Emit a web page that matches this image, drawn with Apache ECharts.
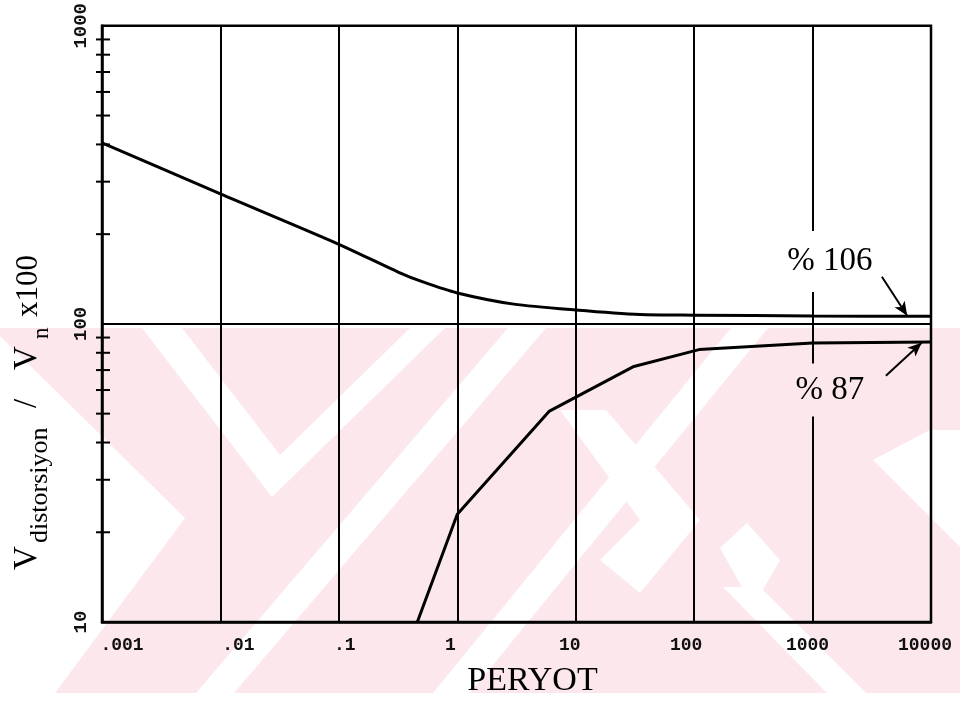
<!DOCTYPE html>
<html>
<head>
<meta charset="utf-8">
<script src="https://cdn.jsdelivr.net/npm/echarts@6/dist/echarts.min.js"></script>
<style>
  html, body { margin: 0; padding: 0; background: #fff; }
  #chart { width: 960px; height: 703px; }
</style>
</head>
<body>
<div id="chart"></div>
<script>
// Axis decades and their printed labels
const xTicks = [0.001, 0.01, 0.1, 1, 10, 100, 1000, 10000];
const xTickLabels = ['.001', '.01', '.1', '1', '10', '100', '1000', '10000'];
const yTicks = [10, 100, 1000];
const yTickLabels = ['10', '100', '1000'];
// Intermediate ticks drawn on the left axis
const yMinorTicks = [20, 30, 40, 50, 60, 70, 80, 90, 200, 300, 400, 500, 600, 700, 800, 900];

// Curves: [period, V_distorsiyon / V_n x100]
const overshootCurve = [
  [0.001, 405], [0.01, 273], [0.1, 185], [0.32, 149], [0.52, 138], [1, 127],
  [3, 116.5], [10, 111.3], [35, 107.5], [100, 107], [1000, 106.3], [10000, 106]
];
const undershootCurve = [
  [0.46, 10], [1, 23], [6, 51], [31, 72], [110, 82], [1000, 86.3], [10000, 87]
];

// Annotation texts, where they sit and their pointer arrows (data coordinates)
const overshootNote = '% 106';
const undershootNote = '% 87';
const overshootNoteAt = [1400, 162];
const undershootNoteAt = [1400, 60];
const overshootArrow = [[3850, 144], [6300, 106.5]];
const undershootArrow = [[4160, 67], [8340, 86.5]];

const axisTitle = { x: 'PERYOT' };

const chart = echarts.init(document.getElementById('chart'), null, { renderer: 'canvas' });

const decade = v => Math.round(Math.log10(v));
// horizontal nudges of the x labels (px, positive = right)
const xLabelShift = [20, 18, 6, -7, -6, -8, -5, -6];
const xRich = {};
xLabelShift.forEach((d, i) => {
  xRich['s' + i] = {
    fontFamily: 'Liberation Mono', fontWeight: 'bold', fontSize: 18, color: '#111',
    padding: d >= 0 ? [0, 0, 0, 2 * d] : [0, -2 * d, 0, 0]
  };
});

// Faint pink stripe pattern printed behind the lower half of the page
const PINK = '#fce8ec';
const Y0 = 328, Y1 = 693;
const whiteShapes = [
  [[0, 336], [185, 518], [55, Y1], [0, Y1]],
  [[142, Y0], [182, Y0], [280, 455], [410, Y0], [445, Y0], [272, 497]],
  [[508, Y0], [546, Y0], [234, Y1], [196, Y1]],
  [[731, Y0], [768, Y0], [470, Y1], [433, Y1]],
  [[560, 410], [606, 410], [700, 520], [640, 593], [600, 560], [640, 520]],
  [[720, 548], [747, 523], [780, 560], [753, 607]],
  [[873, 460], [930, 430], [960, 430], [960, 547]],
  [[723, 587], [760, 587], [866, Y1], [827, Y1]]
];
const pattern = [
  { type: 'rect', z: -21, silent: true, shape: { x: 0, y: Y0, width: 960, height: Y1 - Y0 }, style: { fill: PINK } },
  ...whiteShapes.map(pts => ({ type: 'polygon', z: -20, silent: true, shape: { points: pts }, style: { fill: '#fff' } }))
];

const serif = '"Liberation Serif", "Times New Roman", serif';
const yTitle = {
  type: 'group', x: 44, y: 570, rotation: Math.PI / 2, z: 10,
  children: [
    { type: 'text', x: 0, y: 0, style: { text: 'V', font: '33px ' + serif, fill: '#000', verticalAlign: 'bottom' } },
    { type: 'text', x: 27, y: 9, style: { text: 'distorsiyon', font: '26px ' + serif, fill: '#000', verticalAlign: 'bottom' } },
    { type: 'text', x: 162, y: 0, style: { text: '/', font: '33px ' + serif, fill: '#000', verticalAlign: 'bottom' } },
    { type: 'text', x: 200, y: 0, style: { text: 'V', font: '33px ' + serif, fill: '#000', verticalAlign: 'bottom' } },
    { type: 'text', x: 231, y: 9, style: { text: 'n', font: '23px ' + serif, fill: '#000', verticalAlign: 'bottom' } },
    { type: 'text', x: 253, y: 0, style: { text: 'x100', font: '31px ' + serif, fill: '#000', verticalAlign: 'bottom' } }
  ]
};

// the note boxes also break the 1000 grid line around the text
function noteMark(text, at, bg, pad) {
  return {
    silent: true, symbol: 'rect', symbolSize: 1, itemStyle: { color: 'transparent' },
    label: {
      show: true, position: 'inside', formatter: text,
      fontFamily: 'Liberation Serif', fontSize: 33, color: '#000', backgroundColor: bg, padding: pad
    },
    data: [{ coord: at }]
  };
}
function arrowMark(seg) {
  return {
    silent: true, symbol: ['none', 'arrow'], symbolSize: [9, 14],
    lineStyle: { color: '#000', width: 2, type: 'solid' }, label: { show: false },
    data: [[{ coord: seg[0] }, { coord: seg[1] }]]
  };
}

const option = {
  backgroundColor: '#fff',
  animation: false,
  grid: { left: 102, right: 29, top: 25, bottom: 81, show: true, borderColor: '#000', borderWidth: 2.5, backgroundColor: 'transparent' },
  xAxis: {
    type: 'log', logBase: 10, min: xTicks[0], max: xTicks[xTicks.length - 1], splitNumber: 7,
    axisLine: { show: true, lineStyle: { color: '#000', width: 2.5 } },
    axisTick: { show: false },
    splitLine: { show: true, lineStyle: { color: '#000', width: 2 } },
    axisLabel: {
      margin: 14,
      formatter: v => {
        const i = xTicks.findIndex(t => decade(t) === decade(v));
        return i < 0 ? '' : '{s' + i + '|' + xTickLabels[i] + '}';
      },
      rich: xRich
    },
    name: axisTitle.x, nameLocation: 'middle', nameGap: 42,
    nameTextStyle: { fontFamily: 'Liberation Serif', fontSize: 34, color: '#000', padding: [0, 0, 0, 32] }
  },
  yAxis: {
    type: 'log', logBase: 10, min: yTicks[0], max: yTicks[yTicks.length - 1], splitNumber: 2,
    axisLine: { show: true, lineStyle: { color: '#000', width: 2.5 } },
    axisTick: { show: false },
    splitLine: { show: true, lineStyle: { color: '#000', width: 2 } },
    axisLabel: {
      rotate: 90, margin: 11,
      fontFamily: 'Liberation Mono', fontWeight: 'bold', fontSize: 19, color: '#111',
      formatter: v => {
        const i = yTicks.findIndex(t => decade(t) === decade(v));
        return i < 0 ? '' : yTickLabels[i];
      }
    }
  },
  graphic: [...pattern, yTitle],
  series: [
    {
      type: 'line', data: overshootCurve, smooth: 0.25, showSymbol: false, z: 5,
      lineStyle: { color: '#000', width: 3 },
      markLine: arrowMark(overshootArrow),
      markPoint: noteMark(overshootNote, overshootNoteAt, '#fff', [14, 3])
    },
    {
      type: 'line', data: undershootCurve, showSymbol: false, z: 5,
      lineStyle: { color: '#000', width: 3 },
      markLine: arrowMark(undershootArrow),
      markPoint: noteMark(undershootNote, undershootNoteAt, PINK, [10, 3])
    },
    {
      // short crossing ticks on the left axis
      type: 'custom', z: 6, silent: true, clip: false,
      data: yMinorTicks.map(v => [xTicks[0], v]),
      renderItem: (params, api) => {
        const p = api.coord([api.value(0), api.value(1)]);
        return {
          type: 'line',
          shape: { x1: p[0] - 6, y1: p[1], x2: p[0] + 8, y2: p[1] },
          style: { stroke: '#000', lineWidth: 2 }
        };
      }
    }
  ]
};

chart.setOption(option);
</script>
</body>
</html>
